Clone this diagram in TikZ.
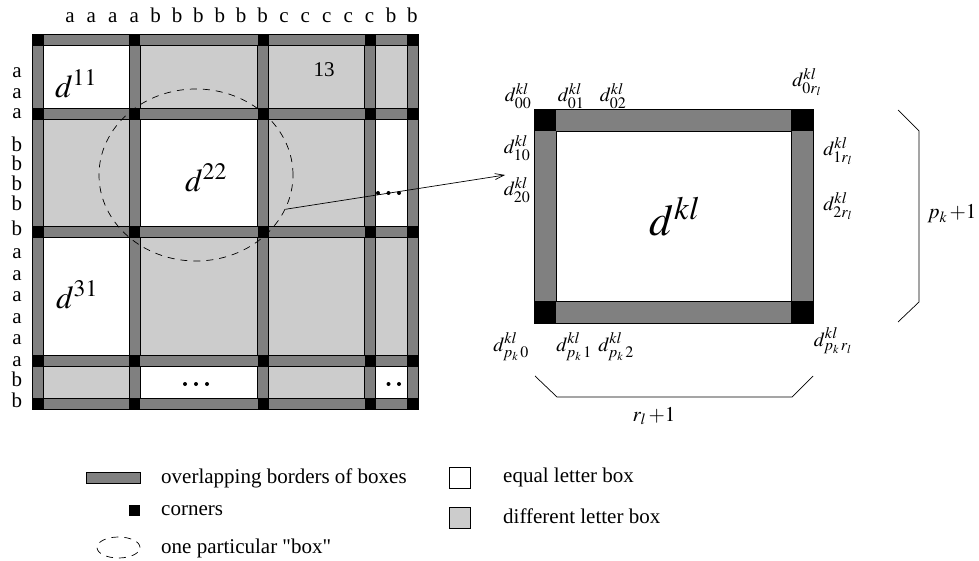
\documentclass[tikz,border=0pt]{standalone}
\usepackage{mathptmx}
\usepackage{fontspec}
\setmainfont{Liberation Serif}[Ligatures=TeXOff]
\usetikzlibrary{arrows.meta, positioning, calc, shapes.geometric}

\DeclareMathSizes{20}{20}{16}{12}
\definecolor{bordergray}{gray}{0.5}
\definecolor{cellgray}{gray}{0.8}

\begin{document}
\begin{tikzpicture}[
  x=1pt, y=-1pt,
  txt/.style = {font=\fontsize{21}{25}\selectfont, inner sep=0pt},
  sub/.style = {font=\fontsize{20}{24}\selectfont, inner sep=0pt},
  bigd/.style = {font=\fontsize{32}{36}\selectfont, inner sep=0pt},
  hugd/.style = {font=\fontsize{44}{48}\selectfont, inner sep=0pt},
  bar/.style = {fill=bordergray, draw=black, line width=0.6pt},
  samebox/.style = {fill=white, draw=black, line width=0.6pt},
  diffbox/.style = {fill=cellgray, draw=black, line width=0.6pt},
  focus/.style = {draw, ellipse, dash pattern=on 7pt off 6pt, line width=0.7pt, inner sep=0pt},
  brace/.style = {draw, line width=0.7pt},
  arrow/.style = {line width=0.7pt, -{Straight Barb[length=9pt, width=6pt]}}
]
\useasboundingbox (0,0) rectangle (979,561);

  % Cells
  \fill[cellgray] (38,39.5) rectangle (412.5,403.5);
  \fill[white] (38,39.5) rectangle (134.5,113.5);
  \fill[white] (134.5,113.5) rectangle (263,232);
  \fill[white] (370,113.5) rectangle (412.5,232);
  \fill[white] (38,232) rectangle (134.5,360.5);
  \fill[white] (134.5,360.5) rectangle (263,403.5);
  \fill[white] (370,360.5) rectangle (412.5,403.5);

  % Borders and corners
  \foreach \x in {38,134.5,263,370,412.5}
    \draw[bar] (\x-5.5,34) rectangle (\x+5.5,409);
  \foreach \y in {39.5,113.5,232,360.5,403.5}
    \draw[bar] (32.5,\y-5.5) rectangle (418,\y+5.5);
  \foreach \x in {38,134.5,263,370,412.5}
    \foreach \y in {39.5,113.5,232,360.5,403.5}
      \fill (\x-5.5,\y-5.5) rectangle (\x+5.5,\y+5.5);

  % Letters
  \foreach \c [count=\i from 0] in {a,a,a,a,b,b,b,b,b,b,c,c,c,c,c,b,b}
    \node[txt, anchor=base] (top_\i) at (70+21.4*\i,23) {\c};
  \foreach \c/\y [count=\i] in {a/72.5,a/93,a/113.5,b/146,b/165,b/185,b/205,b/230,
      a/253.4,a/274.8,a/296.2,a/317.6,a/339.1,a/360.5,b/381,b/401.5}
    \node[txt, anchor=base] (left_\i) at (17,\y+5.5) {\c};

  % Boxes
  \node[bigd] (d_11) at (76,84) {$d^{11}$};
  \node[txt] (d_13) at (324,70) {13};
  \node[bigd] (d_22) at (206,178) {$d^{22}$};
  \node[bigd] (d_31) at (77,295) {$d^{31}$};
  \foreach \x in {378,388.5,399}
    \fill (\x,193) circle (2);
  \foreach \x in {185,196,207}
    \fill (\x,384) circle (2);
  \foreach \x in {388.5,399}
    \fill (\x,384) circle (2);

  % One box
  \node[focus, minimum width=194, minimum height=172] (box_22) at (196,175) {};
  \coordinate (box_tip) at (505,175);
  \draw[arrow] (box_22.-21.5) -- (box_tip);

  % Zoomed box
  \draw[bar] (534,109) rectangle (813,323);
  \draw[samebox] (556,131) rectangle (791,301);
  \fill (534,109) rectangle (556,131);
  \fill (791,109) rectangle (813,131);
  \fill (534,301) rectangle (556,323);
  \fill (791,301) rectangle (813,323);
  \node[hugd] (d_kl) at (675,217) {$d^{kl}$};

  \node[sub] (d_00) at (518,96) {$d^{kl}_{00}$};
  \node[sub] (d_01) at (571,96) {$d^{kl}_{01}$};
  \node[sub] (d_02) at (613,96) {$d^{kl}_{02}$};
  \node[sub] (d_0r) at (807,82) {$d^{kl}_{0r_l}$};
  \node[sub] (d_10) at (517,148) {$d^{kl}_{10}$};
  \node[sub] (d_20) at (517,190) {$d^{kl}_{20}$};
  \node[sub] (d_1r) at (838,151) {$d^{kl}_{1r_l}$};
  \node[sub] (d_2r) at (838,206) {$d^{kl}_{2r_l}$};
  \node[sub] (d_p0) at (511,347) {$d^{kl}_{p_k\,0}$};
  \node[sub] (d_p1) at (574,347) {$d^{kl}_{p_k\,1}$};
  \node[sub] (d_p2) at (616,347) {$d^{kl}_{p_k\,2}$};
  \node[sub] (d_pr) at (833,341) {$d^{kl}_{p_k\,r_l}$};

  % Sizes
  \draw[brace] (898,110) -- (919,131) -- (919,302) -- (898,322);
  \node[txt] (rows_n) at (952,214) {$p_k\,{+}1$};
  \draw[brace] (535,376) -- (557,397) -- (792,397) -- (813,376);
  \node[txt] (cols_n) at (654,416) {$r_l\,{+}1$};

  % Legend
  \node[bar, minimum width=54, minimum height=11, inner sep=0pt] (leg_bar) at (113,478) {};
  \node[txt, anchor=base west] (leg_bar_txt) at (161,483) {overlapping borders of boxes};
  \node[fill, minimum size=11, inner sep=0pt] (leg_corner) at (134.5,510) {};
  \node[txt, anchor=base west] (leg_corner_txt) at (161,515) {corners};
  \node[focus, minimum width=43, minimum height=21] (leg_focus) at (118.5,547.5) {};
  \node[txt, anchor=base west] (leg_focus_txt) at (161,553) {one particular "box"};
  \node[samebox, minimum size=21, inner sep=0pt] (leg_same) at (460,477.5) {};
  \node[txt, anchor=base west] (leg_same_txt) at (503,482) {equal letter box};
  \node[diffbox, minimum size=21, inner sep=0pt] (leg_diff) at (460,517.5) {};
  \node[txt, anchor=base west] (leg_diff_txt) at (503,523) {different letter box};

\end{tikzpicture}
\end{document}
